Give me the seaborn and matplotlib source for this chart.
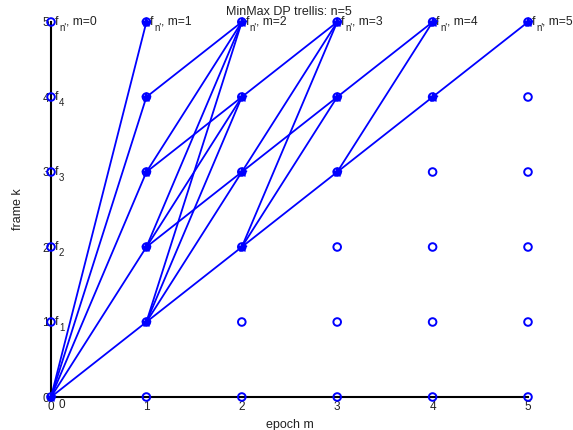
import numpy as np
import pandas as pd
import matplotlib
matplotlib.use("Agg")
import matplotlib.pyplot as plt
import seaborn as sns

# Trellis size
epochs = [0, 1, 2, 3, 4, 5]
frames = [0, 1, 2, 3, 4, 5]

# Edges of the DP trellis: (epoch, from frame, to frame) - from epoch-1 to epoch
edges = [
    (1, 0, 1), (1, 0, 2), (1, 0, 3), (1, 0, 4), (1, 0, 5),
    (2, 1, 2), (2, 1, 3), (2, 2, 3), (2, 1, 4), (2, 2, 4), (2, 3, 4),
    (2, 1, 5), (2, 2, 5), (2, 3, 5), (2, 4, 5),
    (3, 2, 3), (3, 2, 4), (3, 3, 4), (3, 2, 5), (3, 3, 5), (3, 4, 5),
    (4, 3, 4), (4, 3, 5), (4, 4, 5),
    (5, 4, 5),
]

# Nodes reached in each epoch
active_nodes = [
    (0, 0),
    (1, 1), (1, 2), (1, 3), (1, 4), (1, 5),
    (2, 2), (2, 3), (2, 4), (2, 5),
    (3, 3), (3, 4), (3, 5),
    (4, 4), (4, 5),
    (5, 5),
]

frame_subs = ["0", "1", "2", "3", "4"]
top_sub = "n'"
top_suffix = [", m=%d" % m for m in epochs]

TXT = "#222222"
FS = 8.7
FS_SUB = 7

sns.set_theme(style="white")
plt.rcParams["font.family"] = ["Liberation Sans", "DejaVu Sans"]

fig = plt.figure(figsize=(5.73, 4.30), dpi=100)
ax = fig.add_axes([51 / 573, 33 / 430, 477 / 573, 375 / 430])

# edges as line segments
rows = []
for i, (m, j, k) in enumerate(edges):
    rows.append({"edge": i, "epoch": m - 1, "frame": j})
    rows.append({"edge": i, "epoch": m, "frame": k})
seg = pd.DataFrame(rows)
sns.lineplot(data=seg, x="epoch", y="frame", units="edge", estimator=None,
             sort=False, color="#0000ff", lw=1.3, ax=ax, clip_on=False)

# all grid nodes as open circles
grid = pd.DataFrame([(m, k) for m in epochs for k in frames], columns=["epoch", "frame"])
sns.scatterplot(data=grid, x="epoch", y="frame", marker="o", s=30,
                facecolor="none", edgecolor="#0000ff", linewidth=1.4,
                ax=ax, clip_on=False, zorder=3)

# reached nodes
act = pd.DataFrame(active_nodes, columns=["epoch", "frame"])
sns.scatterplot(data=act, x="epoch", y="frame", marker="*", s=40,
                color="#0000ff", edgecolor="#0000ff", linewidth=1.0,
                ax=ax, clip_on=False, zorder=4)
sns.scatterplot(data=act, x="epoch", y="frame", marker="+", s=40,
                color="#0000ff", linewidth=1.4, ax=ax, clip_on=False, zorder=4)


def px(dx, dy):
    # pixel offsets -> points (dpi 100)
    return (dx * 0.72, dy * 0.72)


def label(x, y, sub, suffix=""):
    ax.annotate("f", (x, y), xytext=px(3.5, 0), textcoords="offset points",
                fontsize=FS, ha="left", va="center", color=TXT)
    ax.annotate(sub, (x, y), xytext=px(8, -6), textcoords="offset points",
                fontsize=FS_SUB, ha="left", va="center", color=TXT)
    if suffix:
        ax.annotate(suffix, (x, y), xytext=px(14.5, 0),
                    textcoords="offset points", fontsize=FS, ha="left",
                    va="center", color=TXT)


for m in epochs:
    label(m, 5, top_sub, top_suffix[m])
for k in range(1, 5):
    label(0, k, frame_subs[k])
ax.annotate(frame_subs[0], (0, 0), xytext=px(11, -8), textcoords="offset points",
            fontsize=8.5, ha="center", va="center", color=TXT)

ax.set_xlim(0, 5)
ax.set_ylim(0, 5)
ax.set_xticks(epochs)
ax.set_yticks(frames)
ax.tick_params(direction="in", length=4, width=1, colors="black",
               labelsize=8.5, labelcolor=TXT)
ax.tick_params(axis="x", pad=3)
ax.tick_params(axis="y", pad=1.5)
for s in ["top", "right"]:
    ax.spines[s].set_visible(False)
for s in ["left", "bottom"]:
    ax.spines[s].set_color("black")
    ax.spines[s].set_linewidth(1.5)
    ax.spines[s].set_zorder(1)

ax.set_xlabel("epoch m", fontsize=9, color=TXT, labelpad=4)
ax.set_ylabel("frame k", fontsize=9, color=TXT, labelpad=13)
fig.text(289 / 573, 1 - 12 / 430, "MinMax DP trellis: n=5", fontsize=9,
         ha="center", va="center", color=TXT)

fig.savefig("out.png", dpi=100)
